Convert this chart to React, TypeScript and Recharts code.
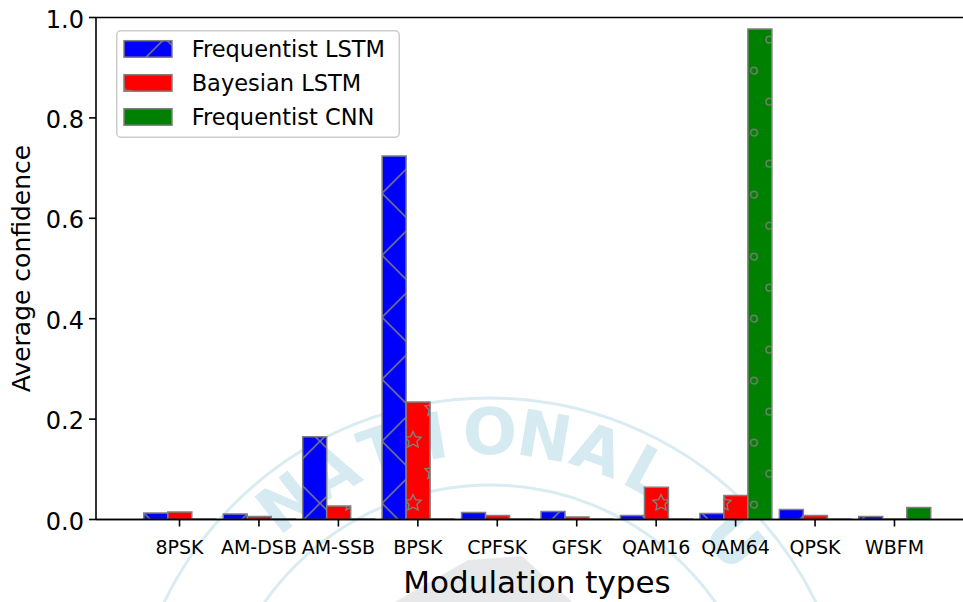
import { BarChart, Bar, XAxis, YAxis, Legend, Label, ReferenceLine } from 'recharts';

// Average confidence per modulation type, for the three classifiers
const categories = ['8PSK', 'AM-DSB', 'AM-SSB', 'BPSK', 'CPFSK', 'GFSK', 'QAM16', 'QAM64', 'QPSK', 'WBFM'];
const frequentistLstm = [0.013, 0.011, 0.165, 0.724, 0.014, 0.016, 0.008, 0.012, 0.02, 0.006];
const bayesianLstm = [0.015, 0.006, 0.027, 0.234, 0.008, 0.005, 0.064, 0.048, 0.008, 0.001];
const frequentistCnn = [0.001, 0.001, 0.001, 0.001, 0.001, 0.001, 0.001, 0.977, 0.001, 0.024];
const yTicks = [0, 0.2, 0.4, 0.6, 0.8, 1.0];

const series = [
  { key: 'fl', name: 'Frequentist LSTM', pattern: 'hatch-x' },
  { key: 'bl', name: 'Bayesian LSTM', pattern: 'hatch-star' },
  { key: 'fc', name: 'Frequentist CNN', pattern: 'hatch-o' },
];

const data = categories.map((name, i) => ({
  name,
  fl: frequentistLstm[i],
  bl: bayesianLstm[i],
  fc: frequentistCnn[i],
}));

const FONT = '"DejaVu Sans", sans-serif';
const EDGE = '#808080';

function starPath(cx: number, cy: number, R: number, r: number) {
  let d = '';
  for (let k = 0; k < 10; k++) {
    const a = ((-90 + 36 * k) * Math.PI) / 180;
    const rad = k % 2 === 0 ? R : r;
    d += (k === 0 ? 'M' : 'L') + (cx + rad * Math.cos(a)).toFixed(2) + ' ' + (cy + rad * Math.sin(a)).toFixed(2);
  }
  return d + 'Z';
}

// hatch tiles are anchored to page coordinates; dx/dy shift them for an svg placed elsewhere
function HatchDefs({ prefix, dx, dy }: { prefix: string; dx: number; dy: number }) {
  return (
    <defs>
      <pattern id={prefix + 'hatch-x'} patternUnits="userSpaceOnUse" x={10 - dx} y={7.3 - dy} width={62} height={62}>
        <rect width={62} height={62} fill="#0000ff" />
        <path d="M0 0L62 62M0 62L62 0" stroke={EDGE} strokeWidth={1.5} />
      </pattern>
      <pattern id={prefix + 'hatch-star'} patternUnits="userSpaceOnUse" x={392 - dx} y={424 - dy} width={62} height={63}>
        <rect width={62} height={63} fill="#ff0000" />
        <path d={starPath(21, 16, 8.5, 4.2) + starPath(41, 47.5, 8.5, 4.2)} fill="none" stroke={EDGE} strokeWidth={1.4} />
      </pattern>
      <pattern id={prefix + 'hatch-o'} patternUnits="userSpaceOnUse" x={746.35 - dx} y={55.2 - dy} width={30.6} height={62}>
        <rect width={30.6} height={62} fill="#008000" />
        <circle cx={7.65} cy={15.5} r={3.3} fill="none" stroke={EDGE} strokeWidth={1.3} />
        <circle cx={22.95} cy={46.5} r={3.3} fill="none" stroke={EDGE} strokeWidth={1.3} />
      </pattern>
    </defs>
  );
}

// faint seal printed behind the figure (only the part that falls inside the frame)
const sealLetters = 'NATIONAL U'.split('');

function Seal() {
  const cx = 490;
  const cy = 760;
  const r = 328;
  return (
    <svg width={963} height={602} style={{ position: 'absolute', left: 0, top: 0 }}>
      <HatchDefs prefix="" dx={0} dy={0} />
      <rect width={963} height={602} fill="#ffffff" />
      <circle cx={cx} cy={cy} r={362} fill="none" stroke="#d9ecf2" strokeWidth={3} />
      <circle cx={cx} cy={cy} r={275} fill="none" stroke="#d9ecf2" strokeWidth={3} />
      <path d="M395 602L468 560L522 556L572 602Z" fill="#e6e8ea" />
      {sealLetters.map((ch, i) => {
        const deg = (i - 4) * 9.6;
        const a = (deg * Math.PI) / 180;
        const x = cx + r * Math.sin(a);
        const y = cy - r * Math.cos(a);
        return (
          <text
            key={i}
            x={x}
            y={y}
            transform={`rotate(${deg} ${x} ${y})`}
            textAnchor="middle"
            dominantBaseline="central"
            fontFamily={FONT}
            fontWeight="bold"
            fontSize={64}
            fill="#d6eaf1"
          >
            {ch}
          </text>
        );
      })}
    </svg>
  );
}

function LegendBox() {
  const left = 116;
  const top = 30;
  return (
    <svg width={284} height={108}>
      <HatchDefs prefix="lg-" dx={left} dy={top} />
      <rect x={0.75} y={0.75} width={282.5} height={106.5} rx={4} fill="#ffffff" fillOpacity={0.8} stroke="#cccccc" strokeWidth={1.5} />
      {series.map((s, i) => (
        <g key={s.key}>
          <rect x={8} y={10.7 + i * 34} width={48} height={16.5} fill={`url(#lg-${s.pattern})`} stroke={EDGE} strokeWidth={1.5} />
          <text x={75.7} y={26.7 + i * 34} fontFamily={FONT} fontSize={22.5} fill="#000000">
            {s.name}
          </text>
        </g>
      ))}
    </svg>
  );
}

function XTick({ x, y, payload }: any) {
  return (
    <text x={x} y={y + 27.5} textAnchor="middle" fontFamily={FONT} fontSize={19} fill="#000000">
      {payload.value}
    </text>
  );
}

function YTick({ x, y, payload }: any) {
  return (
    <text x={x - 3} y={y + 10} textAnchor="end" fontFamily={FONT} fontSize={24} fill="#000000">
      {Number(payload.value).toFixed(1)}
    </text>
  );
}

function YTitle() {
  return (
    <text x={30} y={268.5} transform="rotate(-90 30 268.5)" textAnchor="middle" fontFamily={FONT} fontSize={25} fill="#000000">
      Average confidence
    </text>
  );
}

export default function App() {
  return (
    <div style={{ position: 'absolute', left: 0, top: 0, width: 963, height: 602, overflow: 'hidden', background: '#ffffff' }}>
      <Seal />
      <div style={{ position: 'absolute', left: 0, top: 0 }}>
        <BarChart
          width={1000}
          height={602}
          data={data}
          margin={{ top: 17.5, right: 22, left: 0, bottom: 0 }}
          barSize={24}
          barGap={0}
        >
          <XAxis
            dataKey="name"
            type="category"
            interval={0}
            height={82.5}
            padding={{ left: 43.8, right: 43.8 }}
            tickSize={7}
            tickMargin={0}
            axisLine={{ stroke: '#000000', strokeWidth: 1.6 }}
            tickLine={{ stroke: '#000000', strokeWidth: 1.6 }}
            tick={<XTick />}
          >
            <Label
              value="Modulation types"
              position="insideBottom"
              offset={9}
              style={{ fontFamily: FONT, fontSize: 31, fill: '#000000' }}
            />
          </XAxis>
          <YAxis
            type="number"
            domain={[0, 1]}
            ticks={yTicks}
            allowDataOverflow
            width={96}
            tickSize={7}
            axisLine={{ stroke: '#000000', strokeWidth: 1.6 }}
            tickLine={{ stroke: '#000000', strokeWidth: 1.6 }}
            tick={<YTick />}
          >
            <Label content={<YTitle />} />
          </YAxis>
          {series.map((s) => (
            <Bar
              key={s.key}
              dataKey={s.key}
              name={s.name}
              fill={`url(#${s.pattern})`}
              stroke={EDGE}
              strokeWidth={1.5}
              isAnimationActive={false}
            />
          ))}
          <ReferenceLine y={0} stroke="#000000" strokeWidth={1.6} />
          <ReferenceLine y={1} stroke="#000000" strokeWidth={1.6} />
          <Legend
            layout="vertical"
            align="center"
            verticalAlign="middle"
            wrapperStyle={{ position: 'absolute', left: 116, top: 30, width: 284, height: 108 }}
            content={<LegendBox />}
          />
        </BarChart>
      </div>
    </div>
  );
}
